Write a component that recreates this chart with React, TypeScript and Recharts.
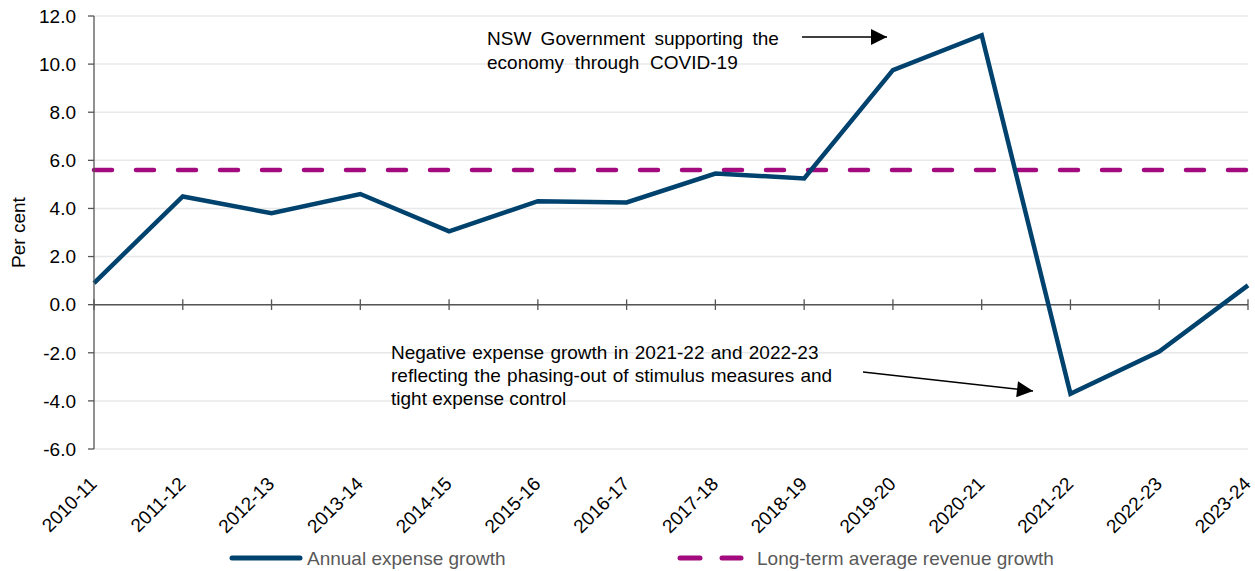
import React from "react";
import {
  LineChart,
  Line,
  XAxis,
  YAxis,
  CartesianGrid,
  ReferenceLine,
  Legend,
} from "recharts";

const years = [
  "2010-11",
  "2011-12",
  "2012-13",
  "2013-14",
  "2014-15",
  "2015-16",
  "2016-17",
  "2017-18",
  "2018-19",
  "2019-20",
  "2020-21",
  "2021-22",
  "2022-23",
  "2023-24",
];

const expenseGrowth = [0.9, 4.5, 3.8, 4.6, 3.05, 4.3, 4.25, 5.45, 5.25, 9.75, 11.2, -3.7, -1.95, 0.8];

const avgRevenueGrowth = [5.6, 5.6, 5.6, 5.6, 5.6, 5.6, 5.6, 5.6, 5.6, 5.6, 5.6, 5.6, 5.6, 5.6];

const yTicks = [-6, -4, -2, 0, 2, 4, 6, 8, 10, 12];

const data = years.map((year, i) => ({
  year,
  expense: expenseGrowth[i],
  average: avgRevenueGrowth[i],
}));

const FONT = '"Liberation Sans", Arial, sans-serif';
const NAVY = "#00426E";
const MAGENTA = "#A20A7E";
const AXIS = "#555555";

const XTick = (props: any) => {
  const { x, y, payload } = props;
  const ax = x + 4;
  const ay = y + 28;
  return (
    <text
      x={ax}
      y={ay}
      transform={`rotate(-45, ${ax}, ${ay})`}
      textAnchor="end"
      fontSize={19}
      fontFamily={FONT}
      fill="#000"
    >
      {payload.value}
    </text>
  );
};

const LegendContent = () => (
  <div style={{ position: "relative", height: 30, width: 1255, fontFamily: FONT, fontSize: 19, color: "#595959" }}>
    <svg width={1255} height={30} style={{ position: "absolute", left: 0, top: 0 }}>
      <line x1={232} y1={17} x2={300} y2={17} stroke={NAVY} strokeWidth={5} strokeLinecap="round" />
      <line x1={680} y1={17} x2={700} y2={17} stroke={MAGENTA} strokeWidth={5} strokeLinecap="round" />
      <line x1={722} y1={17} x2={741} y2={17} stroke={MAGENTA} strokeWidth={5} strokeLinecap="round" />
      <text x={307} y={24} fontSize={19} fontFamily={FONT} fill="#595959">
        Annual expense growth
      </text>
      <text x={757} y={24} fontSize={19} fontFamily={FONT} fill="#595959">
        Long-term average revenue growth
      </text>
    </svg>
  </div>
);

const Annotations = () => (
  <svg
    width={1255}
    height={571}
    style={{ position: "absolute", left: 0, top: 0, pointerEvents: "none" }}
  >
    <defs>
      <marker
        id="head"
        viewBox="0 0 10 10"
        refX={10}
        refY={5}
        markerWidth={17}
        markerHeight={16}
        markerUnits="userSpaceOnUse"
        orient="auto"
      >
        <path d="M0,0 L10,5 L0,10 z" fill="#000" />
      </marker>
    </defs>
    <g fontFamily={FONT} fontSize={19} fill="#000">
      <text x={487} y={45} wordSpacing={4}>
        NSW Government supporting the
      </text>
      <text x={487} y={68.5} wordSpacing={5.5}>
        economy through COVID-19
      </text>
      <text x={391} y={359} wordSpacing={1}>
        Negative expense growth in 2021-22 and 2022-23
      </text>
      <text x={391} y={382} wordSpacing={1}>
        reflecting the phasing-out of stimulus measures and
      </text>
      <text x={391} y={405}>
        tight expense control
      </text>
    </g>
    <line x1={802} y1={37} x2={887} y2={37} stroke="#000" strokeWidth={1.5} markerEnd="url(#head)" />
    <line x1={863} y1={372} x2={1033} y2={391} stroke="#000" strokeWidth={1.5} markerEnd="url(#head)" />
  </svg>
);

export default function App() {
  return (
    <div style={{ position: "absolute", left: 0, top: 0, width: 1255, height: 571, background: "#fff" }}>
      <LineChart
        width={1255}
        height={571}
        data={data}
        margin={{ top: 16, right: 7, left: 0, bottom: 0 }}
      >
        <CartesianGrid horizontal vertical={false} stroke="#e8e8e8" strokeWidth={1.5} />
        <XAxis
          dataKey="year"
          interval={0}
          axisLine={false}
          tickLine={false}
          height={92}
          tick={<XTick />}
        />
        <YAxis
          domain={[-6, 12]}
          ticks={yTicks}
          width={94}
          tickFormatter={(v: number) => v.toFixed(1)}
          tick={{ fontSize: 19, fontFamily: FONT, fill: "#000" }}
          tickSize={6}
          tickMargin={12}
          axisLine={{ stroke: AXIS, strokeWidth: 1.3 }}
          tickLine={{ stroke: AXIS, strokeWidth: 1.3 }}
          label={{
            value: "Per cent",
            angle: -90,
            position: "insideLeft",
            offset: 18,
            style: { fontSize: 19, fontFamily: FONT, fill: "#000", textAnchor: "middle" },
          }}
        />
        <ReferenceLine y={0} stroke={AXIS} strokeWidth={1.5} />
        {years.map((yr) => (
          <ReferenceLine
            key={yr}
            segment={[
              { x: yr, y: -0.22 },
              { x: yr, y: 0.22 },
            ]}
            stroke={AXIS}
            strokeWidth={1.3}
          />
        ))}
        <Line
          type="linear"
          dataKey="average"
          name="Long-term average revenue growth"
          stroke={MAGENTA}
          strokeWidth={4.5}
          strokeDasharray="18 24"
          strokeLinecap="round"
          dot={false}
          isAnimationActive={false}
        />
        <Line
          type="linear"
          dataKey="expense"
          name="Annual expense growth"
          stroke={NAVY}
          strokeWidth={4.5}
          dot={false}
          isAnimationActive={false}
        />
        <Legend verticalAlign="bottom" content={<LegendContent />} wrapperStyle={{ left: 0, width: 1255, height: 30 }} />
      </LineChart>
      <Annotations />
    </div>
  );
}
